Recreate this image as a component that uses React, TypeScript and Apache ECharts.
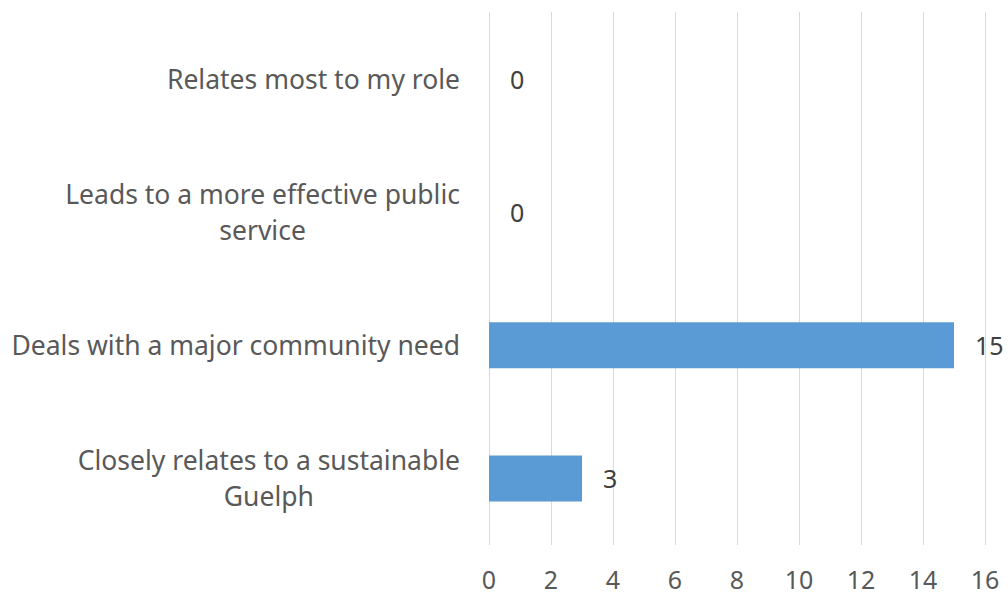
import React, { useEffect, useRef } from "react";
import * as echarts from "echarts";

const categories = [
  "Closely relates to a sustainable\nGuelph",
  "Deals with a major community need",
  "Leads to a more effective public\nservice",
  "Relates most to my role",
];
const values = [3, 15, 0, 0];
const xMin = 0;
const xMax = 16;
const xInterval = 2;

export default function App() {
  const ref = useRef<HTMLDivElement>(null);
  useEffect(() => {
    const chart = echarts.init(ref.current!, null, { renderer: "svg" });
    const font = "'Noto Sans', 'Open Sans', sans-serif";
    chart.setOption({
      animation: false,
      grid: { left: 489, right: 23, top: 12, bottom: 49, containLabel: false },
      xAxis: {
        type: "value",
        min: xMin,
        max: xMax,
        interval: xInterval,
        axisLine: { show: false },
        axisTick: { show: false },
        splitLine: { show: true, lineStyle: { color: "#D9D9D9", width: 1 } },
        axisLabel: { color: "#595959", fontSize: 25, fontFamily: font, margin: 21 },
      },
      yAxis: {
        type: "category",
        data: categories,
        axisLine: { show: false },
        axisTick: { show: false },
        axisLabel: {
          color: "#595959",
          fontSize: 26.5,
          fontFamily: font,
          margin: 29,
          lineHeight: 36,
          formatter: (v: string) =>
            v
              .split("\n")
              .map((l) => "{c|" + l + "}")
              .join("\n"),
          rich: {
            c: { align: "center", fontSize: 26.5, fontFamily: font, color: "#595959", lineHeight: 36 },
          },
        },
      },
      series: [
        {
          type: "bar",
          data: values,
          barWidth: 46,
          itemStyle: { color: "#5B9BD5" },
          label: {
            show: true,
            position: "right",
            distance: 21,
            color: "#404040",
            fontSize: 25,
            fontFamily: font,
          },
        },
      ],
    });
    return () => chart.dispose();
  }, []);
  return <div ref={ref} style={{ width: 1008, height: 594, position: "absolute", left: 0, top: 0 }} />;
}
